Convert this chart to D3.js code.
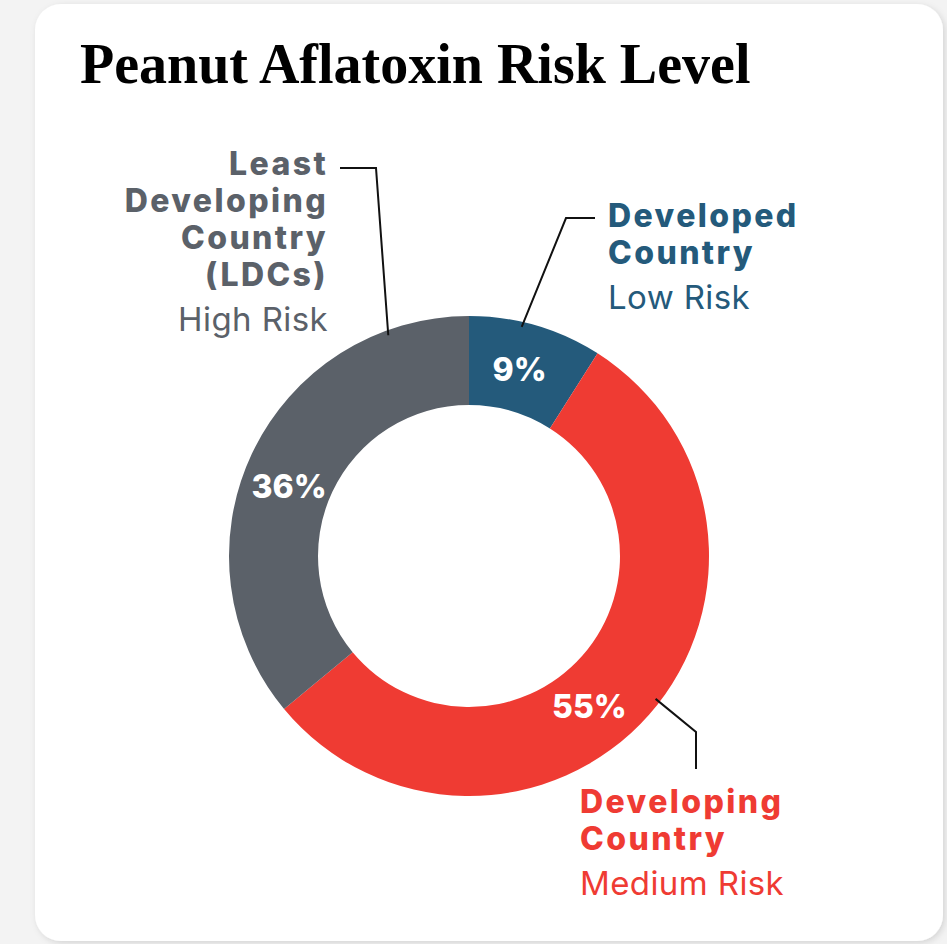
<!DOCTYPE html>
<html>
<head>
<meta charset="utf-8">
<script src="https://cdn.jsdelivr.net/npm/d3@7"></script>
<style>
  html, body { margin: 0; padding: 0; background: #f3f3f3; }
  svg { display: block; }
</style>
</head>
<body>
<div id="chart"></div>
<script>
// chart data
const categories = ['Developed', 'Developing', 'Least Developing']
const shares = [9, 55, 36]
const nameLines = [
  ['Developed', 'Country'],
  ['Developing', 'Country'],
  ['Least', 'Developing', 'Country', '(LDCs)']
]
const riskLevels = ['Low Risk', 'Medium Risk', 'High Risk']
const colors = ['#245a7b', '#ef3b33', '#5b6169']

const width = 947
const height = 944
const cx = 469
const cy = 556
const outerR = 240
const innerR = 151

const svg = d3.select('#chart').append('svg')
  .attr('width', width)
  .attr('height', height)

const defs = svg.append('defs')
const shadow = defs.append('filter').attr('id', 'card-shadow')
  .attr('x', '-5%').attr('y', '-5%').attr('width', '110%').attr('height', '110%')
shadow.append('feDropShadow')
  .attr('dx', 2).attr('dy', 2).attr('stdDeviation', 3)
  .attr('flood-color', '#000').attr('flood-opacity', 0.13)

svg.append('rect')
  .attr('width', width).attr('height', height)
  .attr('fill', '#f3f3f3')

svg.append('rect')
  .attr('x', 35).attr('y', 4)
  .attr('width', 908).attr('height', 937)
  .attr('rx', 26)
  .attr('fill', '#fff')
  .attr('filter', 'url(#card-shadow)')

svg.append('text')
  .attr('x', 80).attr('y', 83)
  .attr('font-family', '"Liberation Serif", serif')
  .attr('font-weight', 700)
  .attr('font-size', 56)
  .attr('fill', '#000')
  .text('Peanut Aflatoxin Risk Level')

const slices = categories.map((c, i) => ({ name: c, value: shares[i], color: colors[i], idx: i }))

const pie = d3.pie().sort(null).value(d => d.value)
const arcs = pie(slices)

const arc = d3.arc().innerRadius(innerR).outerRadius(outerR)

const g = svg.append('g').attr('transform', `translate(${cx},${cy})`)

g.selectAll('.slice')
  .data(arcs)
  .enter()
  .append('path')
  .attr('class', 'slice')
  .attr('d', arc)
  .attr('fill', d => d.data.color)

// polar helper, angle in radians from 12 o'clock
const polar = (a, r) => [Math.sin(a) * r, -Math.cos(a) * r]
const deg = Math.PI / 180

// percent labels sit a little off the centroid, like the original
const pctShift = [-1, 10, -4]
g.selectAll('.pct')
  .data(arcs)
  .enter()
  .append('text')
  .attr('class', 'pct')
  .attr('transform', (d, i) => {
    const a = (d.startAngle + d.endAngle) / 2 + pctShift[i] * deg
    const p = polar(a, 193)
    return `translate(${p[0]},${p[1]})`
  })
  .attr('text-anchor', 'middle')
  .attr('dy', '0.36em')
  .attr('font-family', 'Inter, sans-serif')
  .attr('font-weight', 800)
  .attr('font-size', 32)
  .attr('fill', '#fff')
  .text(d => d.data.value + '%')

// callouts: where the leader touches the ring, its elbow, and text block
const callouts = [
  { t: 0.4, elbow: [97, -338], tail: [126, -338], anchor: 'start', tx: 139, ty: -329 },
  { t: 0.48, elbow: [227, 176], tail: [227, 213], anchor: 'start', tx: 111, ty: 257 },
  { t: 0.845, elbow: [-93, -388], tail: [-129, -388], anchor: 'end', tx: -141, ty: -381 }
]

const lineH = 37

arcs.forEach((d, i) => {
  const c = callouts[i]
  const a = d.startAngle + (d.endAngle - d.startAngle) * c.t
  const start = polar(a, outerR - 5)
  g.append('path')
    .attr('d', d3.line()([start, c.elbow, c.tail]))
    .attr('fill', 'none')
    .attr('stroke', '#111')
    .attr('stroke-width', 2)

  const txt = g.append('text')
    .attr('text-anchor', c.anchor)
    .attr('font-family', 'Inter, sans-serif')
    .attr('fill', d.data.color)

  nameLines[i].forEach((ln, j) => {
    txt.append('tspan')
      .attr('x', c.tx)
      .attr('y', c.ty + j * lineH)
      .attr('font-size', 32)
      .attr('font-weight', 800)
      .attr('letter-spacing', 2.4)
      .text(ln)
  })
  txt.append('tspan')
    .attr('x', c.tx)
    .attr('y', c.ty + nameLines[i].length * lineH + 8)
    .attr('font-size', 33)
    .attr('font-weight', 400)
    .attr('letter-spacing', 0.4)
    .text(riskLevels[i])
})
</script>
</body>
</html>
